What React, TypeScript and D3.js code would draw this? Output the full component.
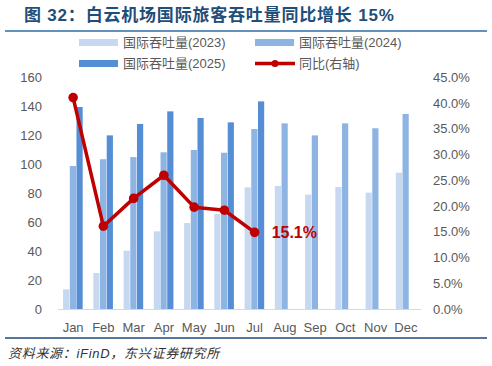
import React from "react";
import * as d3 from "d3";

const months = ["Jan","Feb","Mar","Apr","May","Jun","Jul","Aug","Sep","Oct","Nov","Dec"];
const vol2023 = [13.6,24.9,40.3,53.7,59.4,65.7,84.1,85,79,84.3,80.4,94.2];
const vol2024 = [98.8,103.5,105,108.3,109.9,108,124.4,128.3,120,128.3,124.9,134.8];
const vol2025 = [139.6,120,127.9,136.6,132,129,143.5];
const yoy = [41.1,16.1,21.5,26.0,19.8,19.2,14.9];
const leftTicks = [0,20,40,60,80,100,120,140,160];
const rightTicks = [0,5,10,15,20,25,30,35,40,45];
const seriesNames = ["国际吞吐量(2023)","国际吞吐量(2024)","国际吞吐量(2025)","同比(右轴)"];
const title = "图 32：白云机场国际旅客吞吐量同比增长 15%";
const source = "资料来源：iFinD，东兴证券研究所";
const lastLabel = "15.1%";

const colors = ["#C6D9F1", "#8DB4E2", "#558ED5"];
const red = "#C00000";
const font = "Arial, 'Liberation Sans', 'Noto Sans CJK SC', sans-serif";

export default function App() {
  const W = 492, H = 366;
  const x0 = 58, x1 = 421, yTop = 77.5, yBot = 309;
  const x = d3.scaleBand<string>().domain(months).range([x0, x1]);
  const yL = d3.scaleLinear().domain([0, 160]).range([yBot, yTop]);
  const yR = d3.scaleLinear().domain([0, 45]).range([yBot, yTop]);
  const bw = 6.7;
  const series = [vol2023, vol2024, vol2025];
  const line = d3.line<number>()
    .x((_, i) => x(months[i])! + x.bandwidth() / 2)
    .y((d) => yR(d));
  const lastI = yoy.length - 1;
  return (
    <svg width={W} height={H} style={{ position: "absolute", left: 0, top: 0, fontFamily: font }}>
      <rect width={W} height={H} fill="#fff" />
      <text x={24} y={21} fontSize={17} fontWeight="bold" fill="#1F4E79" letterSpacing={0.8}>{title}</text>
      <line x1={5} x2={487} y1={31} y2={31} stroke="#2E6DA4" strokeWidth={1.5} />
      {/* legend */}
      {[0, 1, 2].map((i) => {
        const lx = i === 1 ? 255 : 79;
        const ly = i === 2 ? 63.5 : 42.5;
        return (
          <g key={i}>
            <rect x={lx} y={ly - 3.5} width={39} height={7} fill={colors[i]} />
            <text x={lx + 44} y={ly} dy="0.35em" fontSize={13} fill="#595959">{seriesNames[i]}</text>
          </g>
        );
      })}
      <g>
        <line x1={255} x2={295} y1={63.5} y2={63.5} stroke={red} strokeWidth={3.5} />
        <circle cx={275} cy={63.5} r={3.5} fill={red} />
        <text x={299} y={63.5} dy="0.35em" fontSize={13} fill="#595959">{seriesNames[3]}</text>
      </g>
      {/* axes labels */}
      {leftTicks.map((t) => (
        <text key={t} x={42} y={yL(t)} dy="0.35em" textAnchor="end" fontSize={13} fill="#595959">{t}</text>
      ))}
      {rightTicks.map((t) => (
        <text key={t} x={433} y={yR(t)} dy="0.35em" fontSize={13} fill="#595959">{t.toFixed(1)}%</text>
      ))}
      {months.map((m) => (
        <text key={m} x={x(m)! + x.bandwidth() / 2} y={327} dy="0.35em" textAnchor="middle" fontSize={13} fill="#595959">{m}</text>
      ))}
      {/* bars */}
      {series.map((s, si) =>
        s.map((v, i) => {
          const cx = x(months[i])! + x.bandwidth() / 2;
          return (
            <rect key={si + "-" + i} x={cx - 1.5 * bw + si * bw} y={yL(v)} width={bw - 0.5} height={yBot - yL(v)} fill={colors[si]} />
          );
        })
      )}
      <line x1={x0} x2={x1} y1={yBot + 0.5} y2={yBot + 0.5} stroke="#D9D9D9" strokeWidth={1} />
      {/* line */}
      <path d={line(yoy)!} fill="none" stroke={red} strokeWidth={3.5} strokeLinejoin="round" />
      {yoy.map((v, i) => (
        <circle key={i} cx={x(months[i])! + x.bandwidth() / 2} cy={yR(v)} r={4.8} fill={red} />
      ))}
      <text x={x(months[lastI])! + x.bandwidth() / 2 + 17} y={yR(yoy[lastI])} dy="0.35em" fontSize={16} fontWeight="bold" fill={red}>{lastLabel}</text>
      <line x1={5} x2={487} y1={338} y2={338} stroke="#1F497D" strokeWidth={1.5} />
      <text x={8} y={353} dy="0.35em" fontSize={13} fontStyle="italic" fill="#333" letterSpacing={0.7}>{source}</text>
    </svg>
  );
}
